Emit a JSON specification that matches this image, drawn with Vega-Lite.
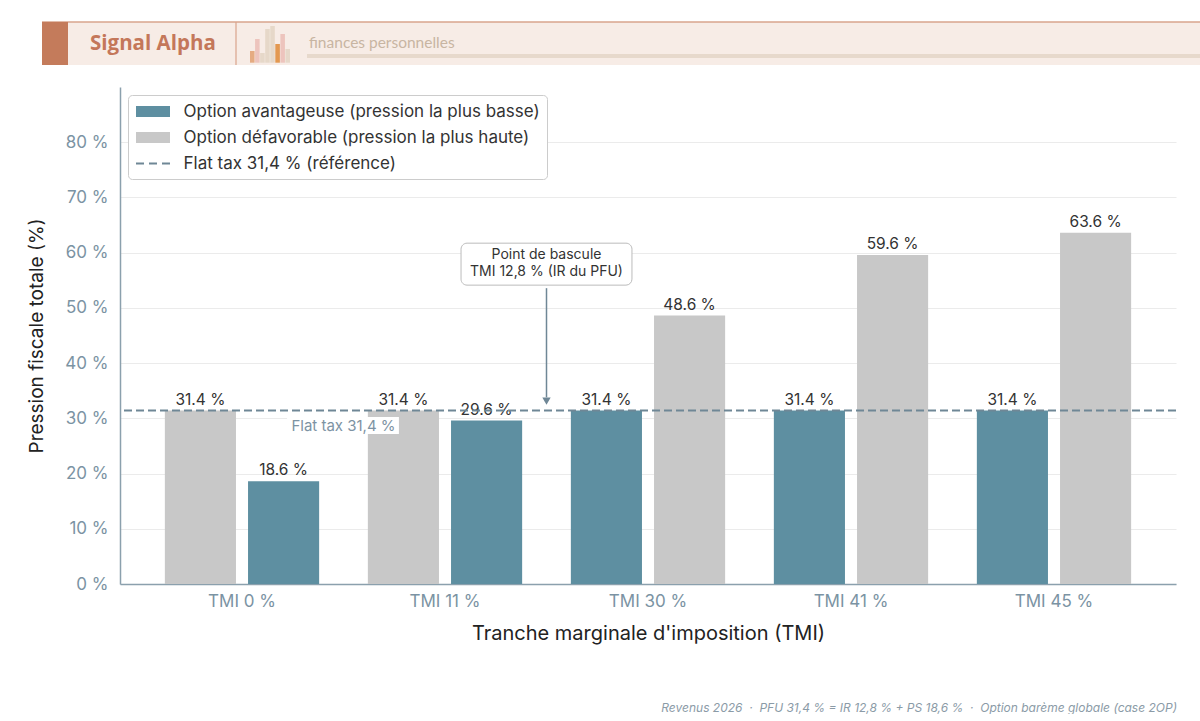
{
  "$schema": "https://vega.github.io/schema/vega-lite/v6.json",
  "background": "white",
  "padding": {"left": 27, "top": 21, "right": 0, "bottom": 0},
  "spacing": 21,
  "config": {
    "font": "Inter",
    "view": {"stroke": null},
    "axis": {"labelFont": "Inter", "titleFont": "Inter"},
    "legend": {"labelFont": "Inter"},
    "text": {"font": "Inter"}
  },
  "resolve": {"scale": {"x": "independent", "y": "independent", "color": "independent", "fill": "independent"}},
  "vconcat": [
    {
      "width": 1080,
      "height": 43,
      "resolve": {"scale": {"x": "independent"}},
      "layer": [
        {
          "data": {"values": [{"marque": "Signal Alpha", "rubrique": "finances personnelles"}]},
          "layer": [
            {
              "mark": {"type": "rect", "color": "#f7ece6"},
              "encoding": {
                "x": {"datum": 42, "type": "quantitative", "scale": {"domain": [120, 1200], "nice": false, "zero": false}, "axis": null},
                "x2": {"datum": 1200},
                "y": {"datum": 21, "type": "quantitative", "scale": {"domain": [21, 64], "reverse": true, "nice": false, "zero": false}, "axis": null},
                "y2": {"datum": 64}
              }
            },
            {
              "mark": {"type": "rect", "color": "#e7d9cc"},
              "encoding": {
                "x": {"datum": 307, "type": "quantitative", "axis": null},
                "x2": {"datum": 1200},
                "y": {"datum": 53, "type": "quantitative", "axis": null},
                "y2": {"datum": 57}
              }
            },
            {
              "mark": {"type": "rule", "color": "#d9a48c", "strokeWidth": 1.5},
              "encoding": {
                "x": {"datum": 42, "type": "quantitative", "axis": null},
                "x2": {"datum": 1200},
                "y": {"datum": 21, "type": "quantitative", "axis": null}
              }
            },
            {
              "mark": {"type": "rect", "color": "#c47b5b"},
              "encoding": {
                "x": {"datum": 42, "type": "quantitative", "axis": null},
                "x2": {"datum": 68},
                "y": {"datum": 21, "type": "quantitative", "axis": null},
                "y2": {"datum": 64}
              }
            },
            {
              "mark": {"type": "rule", "color": "#d9a48c", "strokeWidth": 1.2},
              "encoding": {
                "x": {"datum": 236, "type": "quantitative", "axis": null},
                "y": {"datum": 21, "type": "quantitative", "axis": null},
                "y2": {"datum": 64}
              }
            },
            {
              "mark": {"type": "text", "font": "Open Sans", "fontWeight": "bold", "fontSize": 20.5, "color": "#c4775a", "align": "left", "baseline": "middle"},
              "encoding": {
                "x": {"datum": 90, "type": "quantitative", "axis": null},
                "y": {"datum": 43, "type": "quantitative", "axis": null},
                "text": {"field": "marque"}
              }
            },
            {
              "mark": {"type": "text", "font": "Lato", "fontSize": 15.5, "color": "#c8b5a2", "align": "left", "baseline": "middle"},
              "encoding": {
                "x": {"datum": 309, "type": "quantitative", "axis": null},
                "y": {"datum": 42, "type": "quantitative", "axis": null},
                "text": {"field": "rubrique"}
              }
            }
          ]
        },
        {
          "data": {"values": [
            {"barre": 1, "haut": 50, "teinte": "ocre"},
            {"barre": 2, "haut": 38, "teinte": "rose"},
            {"barre": 3, "haut": 52, "teinte": "sable"},
            {"barre": 4, "haut": 28, "teinte": "sable"},
            {"barre": 5, "haut": 25, "teinte": "sable"},
            {"barre": 6, "haut": 43, "teinte": "orange"},
            {"barre": 7, "haut": 33, "teinte": "rose"},
            {"barre": 8, "haut": 48, "teinte": "sable"}
          ]},
          "mark": {"type": "rect", "opacity": 0.85},
          "encoding": {
            "x": {"field": "barre", "type": "ordinal", "scale": {"range": [130, 170], "paddingInner": 0.1, "paddingOuter": 0}, "axis": null},
            "y": {"field": "haut", "type": "quantitative", "axis": null},
            "y2": {"datum": 61.7},
            "fill": {"field": "teinte", "type": "nominal", "scale": {"domain": ["ocre", "rose", "sable", "orange"], "range": ["#e2a070", "#ebbdb5", "#e3d5c3", "#df8a35"]}, "legend": null}
          }
        }
      ]
    },
    {
      "width": 1056,
      "height": 497,
      "title": {
        "text": "Revenus 2026 \u00a0·\u00a0 PFU 31,4 % = IR 12,8 % + PS 18,6 % \u00a0·\u00a0 Option barème globale (case 2OP)",
        "orient": "bottom",
        "anchor": "end",
        "fontSize": 12,
        "fontStyle": "italic",
        "fontWeight": "normal",
        "color": "#8b9ba7",
        "offset": 60
      },
      "resolve": {"scale": {"x": "independent"}},
      "layer": [
        {
          "data": {"values": [
            {"tmi": "TMI 0 %", "option": "PFU", "statut": "Option défavorable (pression la plus haute)", "pression": 31.4},
            {"tmi": "TMI 0 %", "option": "Barème", "statut": "Option avantageuse (pression la plus basse)", "pression": 18.6},
            {"tmi": "TMI 11 %", "option": "PFU", "statut": "Option défavorable (pression la plus haute)", "pression": 31.4},
            {"tmi": "TMI 11 %", "option": "Barème", "statut": "Option avantageuse (pression la plus basse)", "pression": 29.6},
            {"tmi": "TMI 30 %", "option": "PFU", "statut": "Option avantageuse (pression la plus basse)", "pression": 31.4},
            {"tmi": "TMI 30 %", "option": "Barème", "statut": "Option défavorable (pression la plus haute)", "pression": 48.6},
            {"tmi": "TMI 41 %", "option": "PFU", "statut": "Option avantageuse (pression la plus basse)", "pression": 31.4},
            {"tmi": "TMI 41 %", "option": "Barème", "statut": "Option défavorable (pression la plus haute)", "pression": 59.6},
            {"tmi": "TMI 45 %", "option": "PFU", "statut": "Option avantageuse (pression la plus basse)", "pression": 31.4},
            {"tmi": "TMI 45 %", "option": "Barème", "statut": "Option défavorable (pression la plus haute)", "pression": 63.6}
          ]},
          "transform": [{"calculate": "format(datum.pression, '.1f') + ' %'", "as": "etiquette"}],
          "encoding": {
            "x": {
              "field": "tmi",
              "type": "nominal",
              "sort": ["TMI 0 %", "TMI 11 %", "TMI 30 %", "TMI 41 %", "TMI 45 %"],
              "scale": {"paddingInner": 0.24, "paddingOuter": 0.221},
              "title": "Tranche marginale d'imposition (TMI)",
              "axis": {
                "labelAngle": 0,
                "labelFontSize": 17,
                "labelColor": "#7b93a3",
                "labelPadding": 9,
                "ticks": false,
                "domainColor": "#8ba0ad",
                "domainWidth": 1.5,
                "titleFontSize": 20,
                "titleFontWeight": "normal",
                "titleColor": "#222222",
                "titlePadding": 14
              }
            },
            "xOffset": {"field": "option", "type": "nominal", "sort": ["PFU", "Barème"], "scale": {"paddingInner": 0.145, "paddingOuter": 0}},
            "y": {
              "field": "pression",
              "type": "quantitative",
              "scale": {"domain": [0, 90], "nice": false},
              "title": "Pression fiscale totale (%)",
              "axis": {
                "values": [0, 10, 20, 30, 40, 50, 60, 70, 80],
                "labelExpr": "datum.value + ' %'",
                "labelFontSize": 17,
                "labelColor": "#7b93a3",
                "labelPadding": 12,
                "ticks": false,
                "grid": true,
                "gridColor": "#ebebeb",
                "gridWidth": 1,
                "domainColor": "#8ba0ad",
                "domainWidth": 1.5,
                "titleFontSize": 19,
                "titleFontWeight": "normal",
                "titleColor": "#222222",
                "titlePadding": 18
              }
            }
          },
          "layer": [
            {
              "mark": {"type": "bar"},
              "encoding": {
                "color": {
                  "field": "statut",
                  "type": "nominal",
                  "scale": {
                    "domain": ["Option avantageuse (pression la plus basse)", "Option défavorable (pression la plus haute)", "Flat tax 31,4 % (référence)"],
                    "range": ["#5e8fa1", "#c8c8c8", "#6f8796"]
                  },
                  "legend": {
                    "title": null,
                    "orient": "top-left",
                    "offset": 8,
                    "padding": 7,
                    "fillColor": "white",
                    "strokeColor": "#cccccc",
                    "cornerRadius": 4,
                    "labelFontSize": 17,
                    "labelColor": "#333333",
                    "labelLimit": 0,
                    "labelOffset": 21,
                    "symbolOffset": 8.5,
                    "rowPadding": 7,
                    "symbolType": "M-2,-0.64H2V0.64H-2Z",
                    "symbolSize": 289,
                    "encode": {
                      "symbols": {
                        "update": {
                          "shape": {"signal": "datum.value === 'Flat tax 31,4 % (référence)' ? 'M-2,0H2' : 'M-2,-0.64H2V0.64H-2Z'"},
                          "stroke": {"signal": "datum.value === 'Flat tax 31,4 % (référence)' ? '#6f8796' : 'transparent'"},
                          "fill": {"signal": "datum.value === 'Flat tax 31,4 % (référence)' ? 'transparent' : scale('color', datum.value)"},
                          "strokeWidth": {"value": 2},
                          "strokeDash": {"signal": "datum.value === 'Flat tax 31,4 % (référence)' ? [8, 5] : [1, 0]"}
                        }
                      }
                    }
                  }
                }
              }
            },
            {
              "mark": {"type": "text", "baseline": "alphabetic", "dy": -6, "fontSize": 15.5, "color": "#333333"},
              "encoding": {"text": {"field": "etiquette"}}
            }
          ]
        },
        {
          "data": {"values": [{"reference": 31.4}]},
          "mark": {"type": "rule", "strokeDash": [8, 4], "strokeWidth": 2, "color": "#6f8796"},
          "encoding": {
            "y": {"field": "reference", "type": "quantitative", "title": "Pression fiscale totale (%)"}
          }
        },
        {
          "data": {"values": [{"seuil": "Flat tax 31,4 %", "bascule": "Point de bascule\nTMI 12,8 % (IR du PFU)"}]},
          "layer": [
            {
              "mark": {"type": "rect", "color": "white"},
              "encoding": {
                "x": {"datum": 0.222, "type": "quantitative", "scale": {"domain": [-0.601, 4.601], "nice": false, "zero": false}, "axis": null},
                "x2": {"datum": 0.773},
                "y": {"datum": 27.15, "type": "quantitative", "title": "Pression fiscale totale (%)"},
                "y2": {"datum": 30.23}
              }
            },
            {
              "mark": {"type": "text", "fontSize": 15, "color": "#7d93a3", "baseline": "middle", "align": "center"},
              "encoding": {
                "x": {"datum": 0.5, "type": "quantitative", "axis": null},
                "y": {"datum": 28.6, "type": "quantitative", "title": "Pression fiscale totale (%)"},
                "text": {"field": "seuil"}
              }
            },
            {
              "mark": {"type": "rect", "fill": "white", "stroke": "#bbbbbb", "strokeWidth": 1, "cornerRadius": 6},
              "encoding": {
                "x": {"datum": 1.079, "type": "quantitative", "axis": null},
                "x2": {"datum": 1.921},
                "y": {"datum": 54.12, "type": "quantitative", "title": "Pression fiscale totale (%)"},
                "y2": {"datum": 61.72}
              }
            },
            {
              "mark": {"type": "text", "fontSize": 14, "color": "#333333", "baseline": "middle", "align": "center", "lineBreak": "\n", "lineHeight": 17},
              "encoding": {
                "x": {"datum": 1.5, "type": "quantitative", "axis": null},
                "y": {"datum": 59.55, "type": "quantitative", "title": "Pression fiscale totale (%)"},
                "text": {"field": "bascule"}
              }
            },
            {
              "mark": {"type": "rule", "color": "#6f8796", "strokeWidth": 1.5},
              "encoding": {
                "x": {"datum": 1.5, "type": "quantitative", "axis": null},
                "y": {"datum": 53.57, "type": "quantitative", "title": "Pression fiscale totale (%)"},
                "y2": {"datum": 33.8}
              }
            },
            {
              "mark": {"type": "point", "shape": "triangle-down", "filled": true, "size": 70, "color": "#6f8796", "opacity": 1},
              "encoding": {
                "x": {"datum": 1.5, "type": "quantitative", "axis": null},
                "y": {"datum": 33.1, "type": "quantitative", "title": "Pression fiscale totale (%)"}
              }
            }
          ]
        }
      ]
    }
  ]
}
